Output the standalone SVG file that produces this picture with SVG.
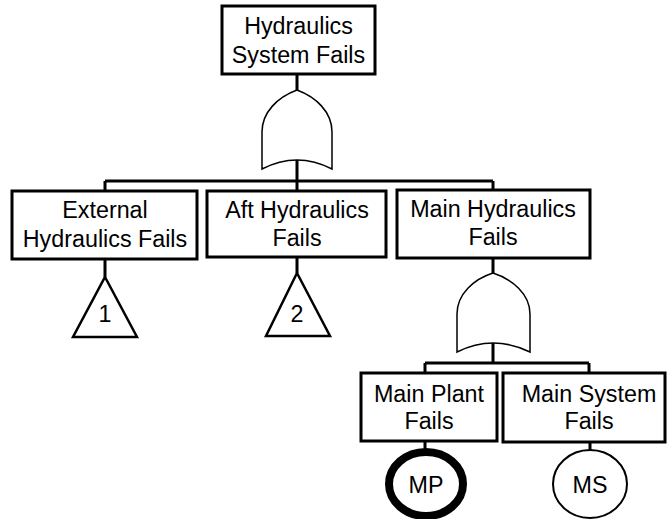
<svg xmlns="http://www.w3.org/2000/svg" width="667" height="519" viewBox="0 0 667 519">
<style>
.box{fill:#fff;stroke:#000;stroke-width:3}
.gate{fill:#fff;stroke:#000;stroke-width:1.5}
.tri{fill:#fff;stroke:#000;stroke-width:2.5;stroke-linejoin:miter}
.ln{fill:none;stroke:#000;stroke-width:3}
text{font-family:"Liberation Sans",Arial,sans-serif;font-size:23.3px;fill:#000;text-anchor:middle}
</style>
<rect width="667" height="519" fill="#fff"/>
<g id="connectors">
<path class="ln" d="M297,74 V90 M297,160 V181 M105,181 H493 M105,181 V191 M297,181 V191 M493,181 V191"/>
<path class="ln" d="M105,259 V277 M297,257 V273"/>
<path class="ln" d="M493,258 V273 M493,343 V363 M425,363 H589 M425,363 V373 M589,363 V373"/>
<path class="ln" d="M425,441 V452 M590,442 V450"/>
</g>
<g id="gate-top">
<path class="gate" d="M262,169 V132 C262,112 278,97 297,90 C316,97 332,112 332,132 V169 Q297,151 262,169 Z"/>
</g>
<g id="gate-main">
<path class="gate" d="M457,352 V314 C457,294 474,279 493,273 C512,279 530,294 530,314 V352 Q493,334 457,352 Z"/>
</g>
<g id="n-top">
<rect class="box" x="222" y="6" width="153" height="68"/>
<text x="298.5" y="34">Hydraulics</text>
<text x="298.5" y="63">System Fails</text>
</g>
<g id="n-external">
<rect class="box" x="12" y="191" width="185" height="68"/>
<text x="105" y="218">External</text>
<text x="105" y="247">Hydraulics Fails</text>
</g>
<g id="n-aft">
<rect class="box" x="207" y="191" width="179" height="66"/>
<text x="297" y="218">Aft Hydraulics</text>
<text x="297" y="246">Fails</text>
</g>
<g id="n-main">
<rect class="box" x="397" y="190" width="193" height="68"/>
<text x="493" y="217">Main Hydraulics</text>
<text x="493" y="245">Fails</text>
</g>
<g id="t-1">
<polygon class="tri" points="105,277 137,337 73,337"/>
<text x="105" y="322">1</text>
</g>
<g id="t-2">
<polygon class="tri" points="297,273 330,336 266,336"/>
<text x="297" y="322">2</text>
</g>
<g id="n-plant">
<rect class="box" x="361" y="373" width="136" height="68"/>
<text x="429" y="402">Main Plant</text>
<text x="429" y="429">Fails</text>
</g>
<g id="n-system">
<rect class="box" x="503" y="373" width="162" height="69"/>
<text x="589" y="402">Main System</text>
<text x="589" y="429">Fails</text>
</g>
<g id="c-mp">
<ellipse cx="426" cy="484" rx="37" ry="32" fill="#fff" stroke="#000" stroke-width="8"/>
<text x="426" y="493">MP</text>
</g>
<g id="c-ms">
<ellipse cx="590" cy="484" rx="37" ry="34" fill="#fff" stroke="#000" stroke-width="2"/>
<text x="590" y="493">MS</text>
</g>
</svg>
